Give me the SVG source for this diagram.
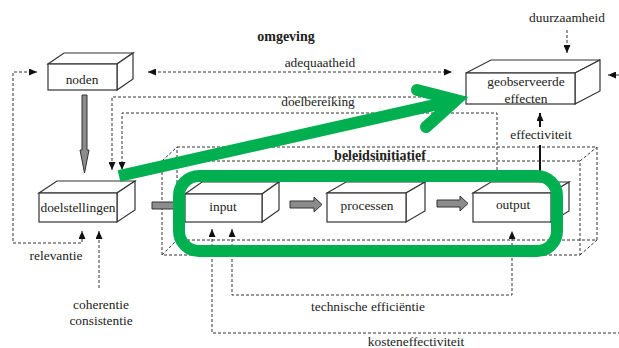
<svg xmlns="http://www.w3.org/2000/svg" width="619" height="348" viewBox="0 0 619 348">
<style>
text{font-family:"Liberation Serif","Times New Roman",serif;font-size:13.4px;fill:#222;text-anchor:middle}
.b{font-weight:bold;font-size:14px}
.face{fill:#fff;stroke:#333;stroke-width:1.2;stroke-linejoin:miter}
.dash{fill:none;stroke:#333;stroke-width:1;stroke-dasharray:3 2}
.solid{fill:none;stroke:#111;stroke-width:2}
.block{fill:#8c8c8c;stroke:#333;stroke-width:1}
.green{fill:none;stroke:#00b050;stroke-width:12}
</style>
<defs>
<marker id="ah" viewBox="0 0 8 7" markerWidth="8" markerHeight="7" refX="8" refY="3.5" orient="auto-start-reverse" markerUnits="userSpaceOnUse">
<path d="M0,0 L8,3.5 L0,7 z" fill="#111"/>
</marker>
</defs>

<g id="beleidsinitiatief">
<path class="dash" d="M177,147 H597 V240 H177 Z"/>
<path class="dash" d="M162,161 H580 V255 H162 Z"/>
<path class="dash" d="M162,161 L177,147 M580,161 L597,147 M580,255 L597,240 M162,255 L177,240"/>
<text class="b" x="380" y="160">beleidsinitiatief</text>
</g>

<text class="b" x="286" y="41">omgeving</text>

<g id="connectors">
<path class="dash" d="M37,72 H13 V243 H82 V231" marker-start="url(#ah)" marker-end="url(#ah)"/>
<path class="dash" d="M99,288 V231" marker-end="url(#ah)"/>
<path class="dash" d="M148,72 H452" marker-start="url(#ah)" marker-end="url(#ah)"/>
<path class="dash" d="M466,97 H112 V170" marker-end="url(#ah)"/>
<path class="dash" d="M497,180 V113 H122 V170" marker-end="url(#ah)"/>
<path class="dash" d="M567,30 V53" marker-end="url(#ah)"/>
<path class="dash" d="M212,229 V333 H619" marker-start="url(#ah)"/>
<path class="dash" d="M619,75 H608" marker-end="url(#ah)"/>
<path class="dash" d="M232,229 V295 H512 V231" marker-start="url(#ah)" marker-end="url(#ah)"/>
<path class="solid" d="M540,180 V145"/>
<path class="solid" d="M540,127 V113" marker-end="url(#ah)"/>
<polygon class="block" points="82,95 87,95 87,150 89,150 84.5,173 80,150 82,150"/>
<polygon class="block" points="152,202 178,202 178,199 186,205.5 178,212 178,209 152,209"/>
<polygon class="block" points="290,201 314,201 314,197 322,204.5 314,212 314,208 290,208"/>
<polygon class="block" points="437,200 460,200 460,196 468,203.5 460,211 460,207 437,207"/>
<text x="320" y="67">adequaatheid</text>
<text x="318" y="106">doelbereiking</text>
<text x="567" y="22">duurzaamheid</text>
<text x="541" y="139">effectiviteit</text>
<text x="56" y="260">relevantie</text>
<text x="101" y="309">coherentie</text>
<text x="101" y="325">consistentie</text>
<text x="368" y="311">technische efficiëntie</text>
<text x="416" y="346">kosteneffectiviteit</text>
</g>

<g id="noden">
<polygon class="face" points="48,64 64,53 133,53 117,64"/>
<polygon class="face" points="117,64 133,53 133,79 117,90"/>
<rect class="face" x="48" y="64" width="69" height="26"/>
<text x="82" y="84">noden</text>
</g>

<g id="geobserveerde-effecten">
<polygon class="face" points="466,73 491,60 600,60 575,73"/>
<polygon class="face" points="575,73 600,60 600,91 575,104"/>
<rect class="face" x="466" y="73" width="109" height="31"/>
<text x="526" y="86">geobserveerde</text>
<text x="526" y="103">effecten</text>
</g>

<g id="doelstellingen">
<polygon class="face" points="39,193 57,181 135,181 117,193"/>
<polygon class="face" points="117,193 135,181 135,210 117,222"/>
<rect class="face" x="39" y="193" width="78" height="29"/>
<text x="78" y="212">doelstellingen</text>
</g>

<g id="input">
<polygon class="face" points="185,194 202,182 279,182 262,194"/>
<polygon class="face" points="262,194 279,182 279,210 262,222"/>
<rect class="face" x="185" y="194" width="77" height="28"/>
<text x="223" y="211">input</text>
</g>

<g id="processen">
<polygon class="face" points="327,193 346,182 425,182 406,193"/>
<polygon class="face" points="406,193 425,182 425,211 406,222"/>
<rect class="face" x="327" y="193" width="79" height="29"/>
<text x="367" y="210">processen</text>
</g>

<g id="output">
<polygon class="face" points="473,193 491,182 569,182 551,193"/>
<polygon class="face" points="551,193 569,182 569,211 551,222"/>
<rect class="face" x="473" y="193" width="78" height="29"/>
<text x="513" y="209">output</text>
</g>

<g id="highlight">
<rect class="green" x="179" y="176" width="378" height="75" rx="20"/>
<line class="green" x1="119" y1="176" x2="452" y2="101"/>
<polyline class="green" points="417,90 456,100 426,127" stroke-linecap="round" stroke-linejoin="miter"/>
</g>
</svg>
